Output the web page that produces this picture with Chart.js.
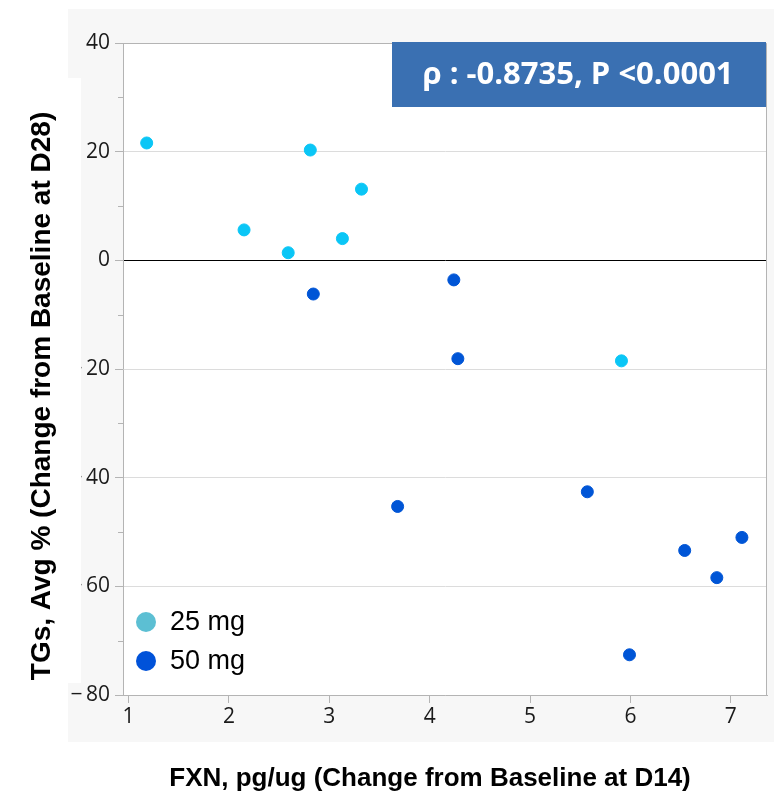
<!DOCTYPE html>
<html>
<head>
<meta charset="utf-8">
<script src="https://cdn.jsdelivr.net/npm/chart.js@4.4.1/dist/chart.umd.min.js"></script>
<style>
    html, body { margin: 0; padding: 0; background: #fff; }
    #wrap { width: 779px; height: 795px; }
</style>
</head>
<body>
<div id="wrap"><canvas id="chart" width="779" height="795"></canvas></div>
<script>
// Данные
const dose25X = [1.18, 2.15, 2.59, 2.81, 3.13, 3.32, 5.91];
const dose25Y = [21.6, 5.6, 1.4, 20.3, 4.0, 13.1, -18.5];
const dose50X = [2.84, 3.68, 4.24, 4.28, 5.57, 5.99, 6.54, 6.86, 7.11];
const dose50Y = [-6.2, -45.3, -3.6, -18.1, -42.6, -72.6, -53.4, -58.4, -51.0];
const seriesLabels = ['25 mg', '50 mg'];
const xTicks = [1, 2, 3, 4, 5, 6, 7];
const yTicks = [-80, -60, -40, -20, 0, 20, 40];
const xTitle = 'FXN, pg/ug (Change from Baseline at D14)';
const yTitle = 'TGs, Avg % (Change from Baseline at D28)';
const statText = 'ρ : -0.8735, P <0.0001';

const pointColors = ['#0AC6F6', '#0055D6'];
const legendColors = ['#5CBFD3', '#0052D9'];

const toPoints = (xs, ys) => xs.map((x, i) => ({ x: x, y: ys[i] }));
const titleFont = (size) => 'bold ' + size + 'px "Liberation Sans", Arial, sans-serif';

// Фон, рамка, малые деления, подписи осей, легенда и плашка
const decor = {
    id: 'decor',
    beforeDraw(chart) {
        const ctx = chart.ctx;
        const a = chart.chartArea;
        ctx.save();
        ctx.fillStyle = '#fff';
        ctx.fillRect(0, 0, chart.width, chart.height);
        ctx.fillStyle = '#F7F7F7';
        ctx.fillRect(68, 9, 706, 733);
        ctx.fillStyle = '#fff';
        ctx.fillRect(a.left, a.top, a.right - a.left, a.bottom - a.top);
        ctx.restore();
    },
    afterDraw(chart) {
        const ctx = chart.ctx;
        const a = chart.chartArea;
        const ys = chart.scales.y;
        ctx.save();
        // белая полоса слева (срезает минусы, как в оригинале)
        ctx.fillStyle = '#fff';
        ctx.fillRect(68, 78, 13, 605);

        // рамка
        ctx.strokeStyle = '#B4B4B4';
        ctx.lineWidth = 1;
        ctx.beginPath();
        ctx.moveTo(a.left, a.top + 0.5);
        ctx.lineTo(a.right - 0.5, a.top + 0.5);
        ctx.lineTo(a.right - 0.5, a.bottom);
        ctx.stroke();

        // малые деления по оси Y
        ctx.beginPath();
        for (let v = -70; v < 40; v += 20) {
            const py = Math.round(ys.getPixelForValue(v)) + 0.5;
            ctx.moveTo(a.left - 5, py);
            ctx.lineTo(a.left, py);
        }
        ctx.stroke();

        // подписи осей
        ctx.fillStyle = '#000';
        ctx.textAlign = 'center';
        ctx.textBaseline = 'middle';
        ctx.font = titleFont(26);
        ctx.fillText(xTitle, 430, 779);
        ctx.save();
        ctx.translate(42, 396);
        ctx.rotate(-Math.PI / 2);
        ctx.font = titleFont(28);
        ctx.fillText(yTitle, 0, 0);
        ctx.restore();

        // легенда
        ctx.font = '27px "Liberation Sans", Arial, sans-serif';
        ctx.textAlign = 'left';
        chart.data.datasets.forEach((ds, i) => {
            const cy = 622 + i * 39;
            ctx.fillStyle = legendColors[i];
            ctx.beginPath();
            ctx.arc(146, cy, 10, 0, Math.PI * 2);
            ctx.fill();
            ctx.fillStyle = '#000';
            ctx.fillText(ds.label, 170, cy + 1);
        });

        // плашка с коэффициентом корреляции
        ctx.fillStyle = '#3A70B2';
        ctx.fillRect(392, 42, 374, 65);
        ctx.fillStyle = '#fff';
        ctx.font = 'bold 31px "Open Sans", sans-serif';
        ctx.textAlign = 'center';
        ctx.fillText(statText, 578, 75);
        ctx.restore();
    }
};

new Chart(document.getElementById('chart'), {
    type: 'scatter',
    data: {
        datasets: [
            {
                label: seriesLabels[0],
                data: toPoints(dose25X, dose25Y),
                backgroundColor: pointColors[0],
                borderColor: pointColors[0],
                pointRadius: 6,
                pointHoverRadius: 6
            },
            {
                label: seriesLabels[1],
                data: toPoints(dose50X, dose50Y),
                backgroundColor: pointColors[1],
                borderColor: pointColors[1],
                pointRadius: 6,
                pointHoverRadius: 6
            }
        ]
    },
    options: {
        responsive: false,
        animation: false,
        layout: { padding: { left: 0, top: 43, right: 12, bottom: 0 } },
        plugins: {
            legend: { display: false },
            tooltip: { enabled: false }
        },
        scales: {
            x: {
                type: 'linear',
                min: 0.944,
                max: 7.36,
                afterFit: (scale) => { scale.height = 100; },
                afterBuildTicks: (scale) => { scale.ticks = xTicks.map(v => ({ value: v })); },
                ticks: {
                    includeBounds: false,
                    padding: 1,
                    color: '#1A1A1A',
                    font: { family: '"Open Sans", sans-serif', size: 21 }
                },
                grid: { drawOnChartArea: false, tickLength: 8, color: '#B4B4B4' },
                border: { color: '#B4B4B4' }
            },
            y: {
                type: 'linear',
                min: -80,
                max: 40,
                afterFit: (scale) => { scale.width = 123; },
                afterBuildTicks: (scale) => { scale.ticks = yTicks.map(v => ({ value: v })); },
                ticks: {
                    padding: 5,
                    color: '#1A1A1A',
                    font: { family: '"Open Sans", sans-serif', size: 21 },
                    callback: (v) => v < 0 ? '\u2212\u2009' + Math.abs(v) : String(v)
                },
                grid: {
                    tickLength: 8,
                    color: (c) => c.tick && c.tick.value === 0 ? '#000' : '#DCDCDC',
                    tickColor: '#B4B4B4'
                },
                border: { color: '#B4B4B4' }
            }
        }
    },
    plugins: [decor]
});
</script>
</body>
</html>
